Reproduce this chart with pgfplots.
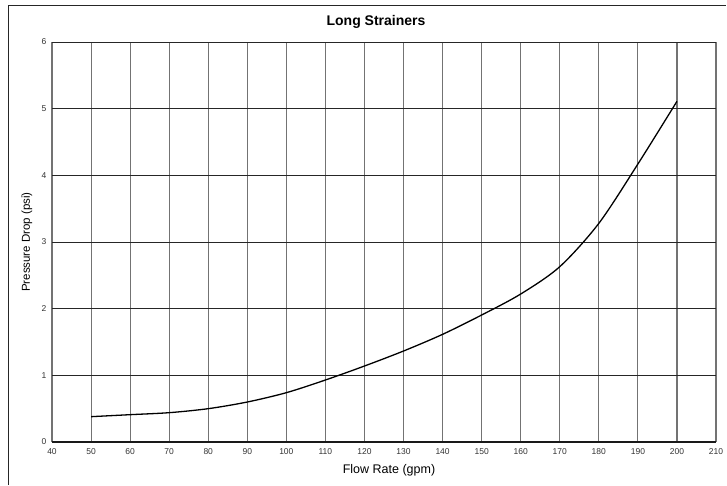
\documentclass[border=0pt]{standalone}
\usepackage{pgfplots}
\pgfplotsset{compat=1.18}
\usepackage{fontspec}
\setmainfont{Liberation Sans}
\begin{document}
\begin{tikzpicture}
\useasboundingbox (0pt,0pt) rectangle (727pt,-485pt);
\draw[line width=1pt, black!85] (8pt,-485pt) -- (8pt,-5pt) -- (726pt,-5pt);
\begin{axis}[
  scale only axis,
  width=664pt, height=400pt,
  at={(52pt,-442pt)}, anchor=south west,
  xmin=40, xmax=210, ymin=0, ymax=6,
  xtick={40,50,...,210}, ytick={0,1,...,6},
  axis line style={draw=none},
  tick style={draw=none},
  xmajorgrids, ymajorgrids,
  x grid style={draw=black!55, line width=1.1pt},
  y grid style={draw=black!85, line width=0.8pt},
  /pgf/number format/assume math mode=true,
  ticklabel style={font=\fontsize{8.5}{10}\selectfont, text=black!80},
  xticklabel style={yshift=-3pt},
  yticklabel style={xshift=-2pt},
  clip=false,
]
\draw[black!90, line width=1.3pt] (axis cs:40,0) -- (axis cs:210,0);
\addplot[black, line width=1.3pt, smooth, mark=none] coordinates {
(50,0.38) (60,0.41) (70,0.44) (80,0.50) (90,0.60) (100,0.74) (110,0.93)
(120,1.14) (130,1.365) (140,1.615) (150,1.905) (160,2.22) (170,2.63)
(180,3.28) (190,4.17) (200,5.11)
};
\end{axis}
\node[font=\bfseries\fontsize{14}{16}\selectfont] at (376pt,-22pt) {Long Strainers};
\node[font=\fontsize{12.5}{14}\selectfont] at (389pt,-470pt) {Flow Rate (gpm)};
\node[font=\fontsize{11.5}{14}\selectfont, rotate=90] at (27pt,-242pt) {Pressure Drop (psi)};
\end{tikzpicture}
\end{document}
